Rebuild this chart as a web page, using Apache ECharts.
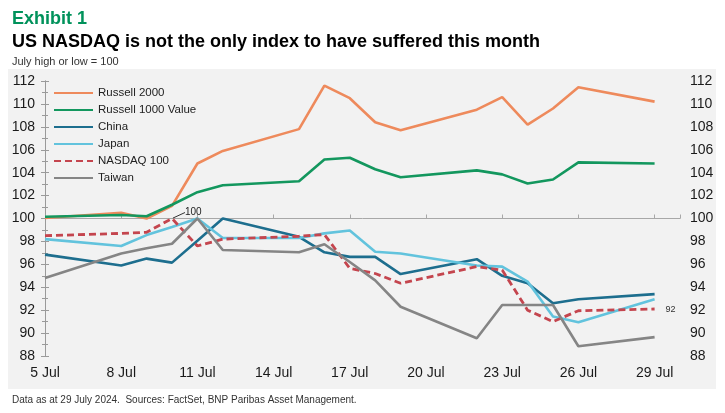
<!DOCTYPE html>
<html style="height: 100%">
<head>
    <meta charset="utf-8">
</head>
<body style="height: 100%; margin: 0; background: #fff">
    <div id="container" style="width: 725px; height: 413px"></div>
    <script src="https://cdn.jsdelivr.net/npm/echarts@6/dist/echarts.min.js"></script>
    <script type="text/javascript">
        // trading days in July 2024
        var days = [5, 8, 9, 10, 11, 12, 15, 16, 17, 18, 19, 22, 23, 24, 25, 26, 29];
        var dayTicks = [5, 8, 11, 14, 17, 20, 23, 26, 29];

        var russell2000 = [100.05, 100.5, 100.0, 101.1, 104.8, 105.9, 107.8, 111.6, 110.5, 108.4, 107.7, 109.5, 110.6, 108.2, 109.6, 111.45, 110.2];
        var russell1000v = [100.15, 100.3, 100.2, 101.2, 102.3, 102.9, 103.25, 105.15, 105.3, 104.3, 103.6, 104.2, 103.85, 103.05, 103.4, 104.9, 104.8];
        var china = [96.85, 95.9, 96.5, 96.15, 98.05, 100.0, 98.4, 97.05, 96.65, 96.65, 95.15, 96.45, 95.0, 94.35, 92.6, 92.95, 93.4];
        var japan = [98.2, 97.6, 98.55, 99.25, 100.0, 98.3, 98.3, 98.7, 98.95, 97.1, 96.95, 95.9, 95.8, 94.5, 91.45, 90.95, 92.95];
        var nasdaq = [98.5, 98.7, 98.8, 100.0, 97.6, 98.2, 98.45, 98.6, 95.65, 95.2, 94.35, 95.8, 95.5, 92.0, 91.0, 91.95, 92.1];
        var taiwan = [94.8, 96.95, 97.4, 97.8, 100.0, 97.25, 97.05, 97.75, 96.2, 94.6, 92.3, 89.55, 92.45, 92.45, 92.45, 88.85, 89.65];

        var base = 100;      // the x axis crosses at 100
        var firstDay = 5;
        var font = 'Liberation Sans';

        var dom = document.getElementById("container");
        var myChart = echarts.init(dom);

        // values are shifted so that 100 sits on the zero line
        var toPoints = function (vals) {
            return vals.map(function (v, i) {
                return [days[i] - firstDay, +(v - base).toFixed(2)];
            });
        };

        // labelled points need a (hidden) symbol to carry the label
        var hiddenDot = { symbol: 'circle', symbolSize: 2, itemStyle: { color: 'rgba(0,0,0,0)' } };
        var nasdaqPoints = toPoints(nasdaq).map(function (p, i) {
            if (i === 3) {
                return Object.assign({
                    value: p,
                    label: { show: true, position: 'right', fontSize: 10, color: '#222' },
                    labelLine: { show: true, lineStyle: { color: '#333', width: 1 } }
                }, hiddenDot);
            }
            if (i === days.length - 1) {
                return Object.assign({
                    value: p,
                    label: { show: true, position: 'right', distance: 10, fontSize: 9, color: '#333' },
                    labelLine: { show: false }
                }, hiddenDot);
            }
            return p;
        });

        var line = function (name, vals, color, extra) {
            var s = {
                name: name,
                type: 'line',
                data: vals,
                symbol: 'none',
                lineStyle: { color: color, width: 2.6 },
                itemStyle: { color: color },
                emphasis: { disabled: true },
                animation: false
            };
            return Object.assign(s, extra || {});
        };

        var yAxisCommon = {
            type: 'value',
            min: -12,
            max: 12,
            interval: 2,
            axisLine: { show: true, lineStyle: { color: '#9a9a9a' } },
            axisTick: { show: true, length: 4, lineStyle: { color: '#9a9a9a' } },
            minorTick: { show: true, splitNumber: 2, length: 3, lineStyle: { color: '#9a9a9a' } },
            splitLine: { show: false },
            axisLabel: {
                fontFamily: font, fontSize: 14, color: '#1a1a1a', margin: 10,
                formatter: function (v) { return v + base; }
            }
        };

        option = {
            backgroundColor: '#fff',
            textStyle: { fontFamily: font },
            graphic: [{
                type: 'rect',
                z: -10,
                shape: { x: 8, y: 69, width: 708, height: 320 },
                style: { fill: '#f2f2f2' }
            }],
            title: [
                { text: 'Exhibit 1', left: 7, top: 5, textStyle: { fontFamily: font, fontSize: 18, fontWeight: 'bold', color: '#00925b' } },
                { text: 'US NASDAQ is not the only index to have suffered this month', left: 7, top: 28, textStyle: { fontFamily: font, fontSize: 18, fontWeight: 'bold', color: '#000' } },
                { text: 'July high or low = 100', left: 7, top: 51, textStyle: { fontFamily: font, fontSize: 11, fontWeight: 'normal', color: '#333' } },
                { text: 'Data as at 29 July 2024.  Sources: FactSet, BNP Paribas Asset Management.', left: 7, top: 390, textStyle: { fontFamily: font, fontSize: 10, fontWeight: 'normal', color: '#333' } }
            ],
            legend: {
                orient: 'vertical',
                left: 48,
                top: 82,
                itemWidth: 39,
                itemHeight: 12,
                itemGap: 5,
                itemStyle: { opacity: 0 },
                textStyle: { fontFamily: font, fontSize: 11.5, color: '#222' },
                data: ['Russell 2000', 'Russell 1000 Value', 'China', 'Japan', 'NASDAQ 100', 'Taiwan']
            },
            grid: { left: 45, right: 45, top: 81, bottom: 57 },
            xAxis: [{
                type: 'value',
                position: 'bottom',
                min: 0,
                max: 25,
                interval: 3,
                axisLine: { show: false, onZero: false },
                axisTick: { show: false },
                splitLine: { show: false },
                axisLabel: {
                    fontFamily: font, fontSize: 14, color: '#1a1a1a', margin: 10, showMaxLabel: false,
                    formatter: function (v) {
                        var d = v + firstDay;
                        return dayTicks.indexOf(d) >= 0 ? d + ' Jul' : '';
                    }
                }
            }, {
                type: 'value',
                position: 'top',
                min: 0,
                max: 25,
                interval: 3,
                axisLine: { show: true, onZero: true, lineStyle: { color: '#a8a8a8' } },
                axisTick: { show: true, length: 4, lineStyle: { color: '#a8a8a8' } },
                axisLabel: { show: false },
                splitLine: { show: false }
            }],
            yAxis: [
                Object.assign({ position: 'left' }, yAxisCommon),
                Object.assign({ position: 'right' }, yAxisCommon)
            ],
            series: [
                line('Russell 2000', toPoints(russell2000), '#ee8a5c'),
                line('Russell 1000 Value', toPoints(russell1000v), '#13975e'),
                line('China', toPoints(china), '#1d6e8e'),
                line('Japan', toPoints(japan), '#62c3dd'),
                line('NASDAQ 100', nasdaqPoints, '#c4454e', {
                    lineStyle: { color: '#c4454e', width: 2.8, type: [7, 4] },
                    label: {
                        formatter: function (p) { return Math.round(p.value[1] + base); }
                    },
                    labelLayout: function (p) {
                        if (p.dataIndex === 3) return { dx: 7, dy: -6 };
                        return {};
                    }
                }),
                line('Taiwan', toPoints(taiwan), '#858585')
            ]
        };

        myChart.setOption(option);
    </script>
</body>
</html>
